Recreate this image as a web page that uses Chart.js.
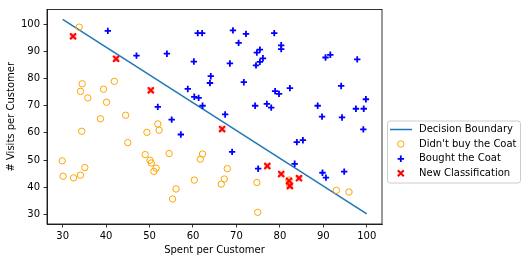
<!DOCTYPE html>
<html>
<head>
<meta charset="utf-8">
<script src="https://cdn.jsdelivr.net/npm/chart.js@4.4.1/dist/chart.umd.min.js"></script>
<style>
    html, body { margin: 0; padding: 0; background: #fff; }
</style>
</head>
<body>
<canvas id="scatterChart" width="527" height="262"></canvas>
<script>
// Values
var legendLabels = ["Decision Boundary", "Didn't buy the Coat", "Bought the Coat", "New Classification"];
var xTicks = [30, 40, 50, 60, 70, 80, 90, 100];
var yTicks = [30, 40, 50, 60, 70, 80, 90, 100];

var boundaryX = [30, 100];
var boundaryY = [101.9, 30.1];

var noBuyX = [33.8, 34.5, 34.1, 35.8, 41.9, 39.4, 40.1, 38.7, 44.5, 51.9, 52.2, 34.4, 49.4,
    45.0, 49.0, 54.5, 62.2, 61.7, 50.1, 50.4, 51.5, 51.0, 29.9, 35.1, 30.1, 32.5, 34.1,
    60.3, 56.1, 55.3, 67.9, 67.2, 66.5, 74.7, 74.9, 93.0, 95.9, 82.1, 82.2];
var noBuyY = [99.0, 78.1, 75.3, 72.9, 79.0, 76.1, 71.3, 65.2, 66.5, 63.3, 61.0, 60.6, 60.2,
    56.4, 52.0, 52.4, 52.2, 50.3, 49.9, 48.9, 47.0, 45.8, 49.7, 47.2, 44.0, 43.4, 44.4,
    42.6, 39.3, 35.6, 46.8, 43.0, 41.1, 41.7, 30.7, 38.8, 38.2, 42.6, 40.9];

var boughtX = [40.4, 47.0, 54.0, 61.1, 62.1, 60.2, 64.1, 63.9, 58.8, 60.3, 61.3, 62.2, 51.9, 55.1, 57.2,
    69.2, 72.2, 78.7, 70.5, 74.7, 75.4, 80.3, 80.3, 76.1, 75.4, 74.5, 68.5, 71.7, 90.5, 91.6,
    97.8, 94.1, 82.3, 78.9, 79.8, 99.8, 74.3, 77.0, 78.0, 88.7, 97.5, 99.3, 89.7, 94.3, 67.4, 99.2,
    83.9, 85.3, 69.0, 75.0, 83.4, 89.8, 90.6, 94.8];
var boughtY = [97.6, 88.5, 89.2, 96.8, 96.8, 86.3, 80.9, 78.4, 76.2, 73.3, 72.9, 70.0, 69.6, 64.9, 59.4,
    97.8, 96.5, 96.8, 93.2, 89.6, 90.7, 92.3, 90.9, 87.5, 86.2, 84.9, 85.6, 78.7, 87.8, 88.8,
    87.1, 77.3, 76.5, 75.4, 74.4, 72.4, 70.0, 70.7, 69.3, 70.0, 68.9, 68.9, 66.0, 65.7, 66.8, 61.3,
    56.6, 57.3, 53.0, 46.8, 48.6, 45.3, 43.5, 45.7];

var newX = [32.4, 42.3, 50.3, 66.7, 77.1, 80.3, 84.4, 82.1, 82.3];
var newY = [95.6, 87.3, 75.7, 61.4, 47.8, 44.8, 43.3, 42.3, 40.4];

function toPoints(xs, ys) {
    return xs.map(function (x, i) { return { x: x, y: ys[i] }; });
}

var tickFont = { family: "DejaVu Sans", size: 10 };

// matplotlib style box around the axes, plus the framed legend on the right
var framePlugin = {
    id: "frameAndLegend",
    afterDraw: function (chart) {
        var ctx = chart.ctx;
        var a = chart.chartArea;
        ctx.save();
        ctx.strokeStyle = "#000";
        ctx.lineWidth = 0.8;
        ctx.strokeRect(a.left, a.top, a.right - a.left, a.bottom - a.top);

        // legend frame
        var bx = 387.5, by = 121, bw = 133, bh = 62, r = 2.5;
        ctx.beginPath();
        ctx.moveTo(bx + r, by);
        ctx.lineTo(bx + bw - r, by);
        ctx.arcTo(bx + bw, by, bx + bw, by + r, r);
        ctx.lineTo(bx + bw, by + bh - r);
        ctx.arcTo(bx + bw, by + bh, bx + bw - r, by + bh, r);
        ctx.lineTo(bx + r, by + bh);
        ctx.arcTo(bx, by + bh, bx, by + bh - r, r);
        ctx.lineTo(bx, by + r);
        ctx.arcTo(bx, by, bx + r, by, r);
        ctx.closePath();
        ctx.fillStyle = "rgba(255,255,255,0.8)";
        ctx.fill();
        ctx.strokeStyle = "#cccccc";
        ctx.lineWidth = 1;
        ctx.stroke();

        var rowY = [129.5, 144, 158.8, 173.3];
        var cx = 400.8;
        var ds = chart.data.datasets;
        ctx.font = "10px 'DejaVu Sans'";
        ctx.textBaseline = "middle";
        ctx.textAlign = "left";
        for (var i = 0; i < legendLabels.length; i++) {
            var y = rowY[i];
            ctx.beginPath();
            if (i === 0) {
                ctx.strokeStyle = ds[0].borderColor;
                ctx.lineWidth = 1.5;
                ctx.moveTo(390, y);
                ctx.lineTo(412, y);
            } else if (i === 1) {
                ctx.strokeStyle = ds[1].pointBorderColor;
                ctx.lineWidth = 1;
                ctx.arc(cx, y, 3.2, 0, Math.PI * 2);
            } else if (i === 2) {
                ctx.strokeStyle = ds[2].pointBorderColor;
                ctx.lineWidth = 1.8;
                ctx.moveTo(cx - 3.2, y); ctx.lineTo(cx + 3.2, y);
                ctx.moveTo(cx, y - 3.2); ctx.lineTo(cx, y + 3.2);
            } else {
                ctx.strokeStyle = ds[3].pointBorderColor;
                ctx.lineWidth = 2;
                ctx.moveTo(cx - 3, y - 3); ctx.lineTo(cx + 3, y + 3);
                ctx.moveTo(cx - 3, y + 3); ctx.lineTo(cx + 3, y - 3);
            }
            ctx.stroke();
            ctx.fillStyle = "#000";
            ctx.fillText(legendLabels[i], 419, y);
        }
        ctx.restore();
    }
};

document.addEventListener("DOMContentLoaded", function () {
    new Chart("scatterChart", {
        type: "scatter",
        data: {
            datasets: [{
                label: legendLabels[0],
                type: "line",
                data: toPoints(boundaryX, boundaryY),
                borderColor: "#1f77b4",
                borderWidth: 1.5,
                pointRadius: 0,
                fill: false,
                order: 5
            }, {
                label: legendLabels[1],
                data: toPoints(noBuyX, noBuyY),
                pointStyle: "circle",
                pointRadius: 3.2,
                pointBorderWidth: 1,
                pointBorderColor: "#FFA500",
                pointBackgroundColor: "rgba(0,0,0,0)",
                order: 4
            }, {
                label: legendLabels[2],
                data: toPoints(boughtX, boughtY),
                pointStyle: "cross",
                pointRadius: 3.2,
                pointBorderWidth: 1.8,
                pointBorderColor: "#0000FF",
                order: 3
            }, {
                label: legendLabels[3],
                data: toPoints(newX, newY),
                pointStyle: "crossRot",
                pointRadius: 4.2,
                pointBorderWidth: 2,
                pointBorderColor: "#FF0000",
                order: 1
            }, {
                // soft halo under the red crosses, as in the picture
                label: "halo",
                data: toPoints(newX, newY),
                pointStyle: "rect",
                pointRadius: 4.6,
                pointBorderWidth: 0,
                pointBorderColor: "rgba(0,0,0,0)",
                pointBackgroundColor: "rgba(255,110,90,0.45)",
                order: 2
            }]
        },
        options: {
            responsive: false,
            animation: false,
            events: [],
            layout: { padding: { top: 6, right: 145, left: 0, bottom: 0 } },
            plugins: {
                legend: { display: false },
                tooltip: { enabled: false }
            },
            scales: {
                x: {
                    type: "linear",
                    min: 26.4,
                    max: 103.5,
                    afterBuildTicks: function (scale) {
                        scale.ticks = xTicks.map(function (v) { return { value: v }; });
                    },
                    afterFit: function (scale) { scale.height = 38; },
                    grid: { drawOnChartArea: false, drawTicks: true, tickLength: 3.5, color: "#000", lineWidth: 0.8 },
                    border: { display: true, color: "#000", width: 0.8 },
                    ticks: { font: tickFont, color: "#000", padding: 3, maxRotation: 0 },
                    title: { display: true, text: "Spent per Customer", font: tickFont, color: "#000", padding: { top: 0, bottom: 6 } }
                },
                y: {
                    type: "linear",
                    min: 26.4,
                    max: 105.5,
                    afterBuildTicks: function (scale) {
                        scale.ticks = yTicks.map(function (v) { return { value: v }; });
                    },
                    afterFit: function (scale) { scale.width = 47; },
                    grid: { drawOnChartArea: false, drawTicks: true, tickLength: 3.5, color: "#000", lineWidth: 0.8 },
                    border: { display: true, color: "#000", width: 0.8 },
                    ticks: { font: tickFont, color: "#000", padding: 3.5 },
                    title: { display: true, text: "# Visits per Customer", font: tickFont, color: "#000", padding: { top: 5, bottom: 0 } }
                }
            }
        },
        plugins: [framePlugin]
    });
});
</script>
</body>
</html>
